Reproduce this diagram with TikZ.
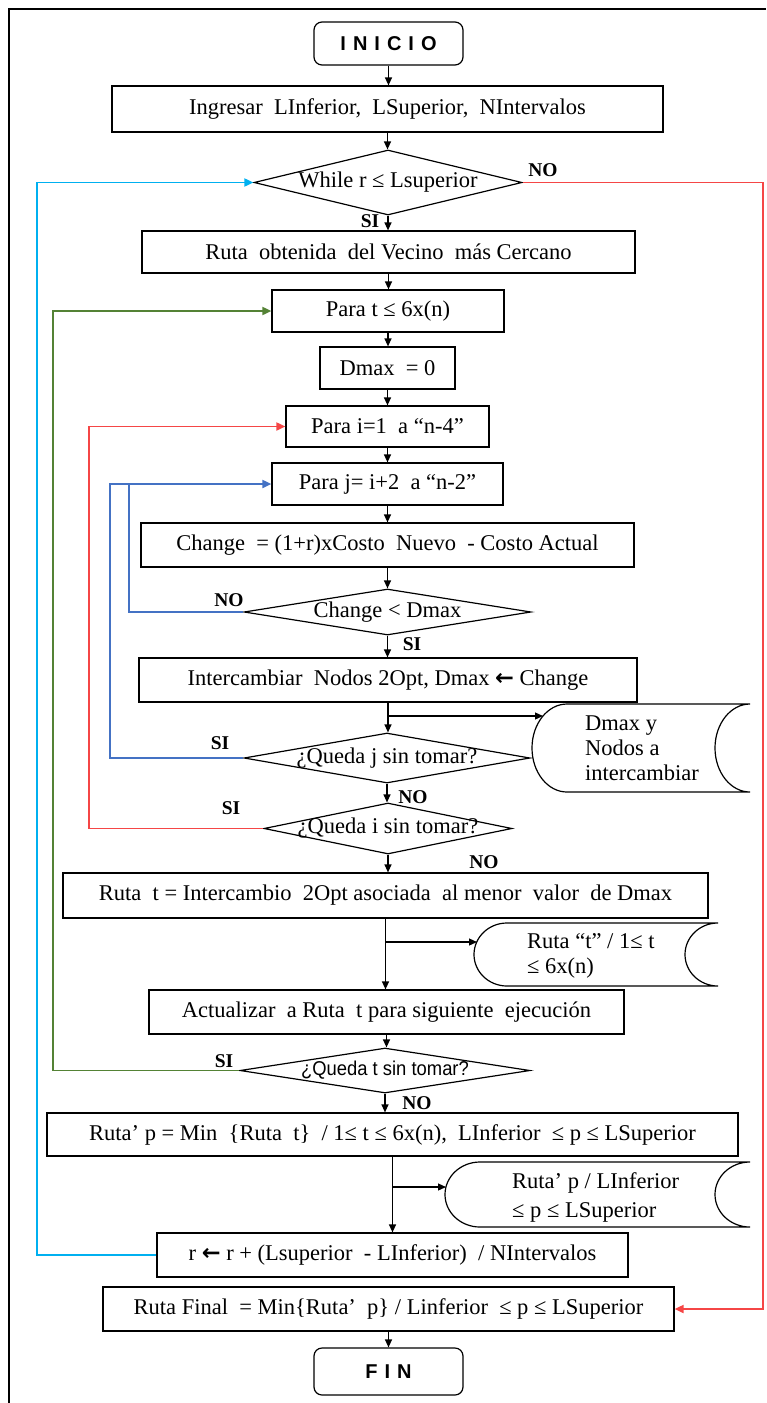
\documentclass[tikz,border=0pt]{standalone}
\usepackage{fontspec}
\usepackage{graphicx}
\setmainfont{Liberation Serif}
\newfontfamily\arialfont{Liberation Sans}
\newfontfamily\symfont{DejaVu Sans}
\usetikzlibrary{shapes.geometric,arrows.meta,calc}
\definecolor{lcyan}{RGB}{0,176,240}
\definecolor{lred}{RGB}{245,70,70}
\definecolor{lgreen}{RGB}{84,130,53}
\definecolor{lblue}{RGB}{68,114,196}
\newcommand\lsp{\kern7pt}
\newcommand\myarrow{{\symfont\bfseries ←}}
\newcommand\storage[5]{\draw[line width=1.2pt] ({#1+#5},#2) -- (#3,#2) arc[start angle=90,end angle=270,x radius=#5pt,y radius={((#4)-(#2))/2*1pt}] -- ({#1+#5},#4) arc[start angle=270,end angle=90,x radius=#5pt,y radius={((#4)-(#2))/2*1pt}] -- cycle;}
\begin{document}
\begin{tikzpicture}[x=1pt,y=-1pt,
  txt/.style={font=\fontsize{22.5}{25}\selectfont},
  box/.style={draw, line width=1.2pt, inner sep=0pt, txt},
  term/.style={draw, line width=1.2pt, inner sep=0pt, rounded corners=8pt, font=\arialfont\bfseries\fontsize{20}{22}\selectfont},
  dia/.style={draw, diamond, line width=1.2pt, inner sep=0pt},
  lbl/.style={font=\fontsize{19.5}{21}\selectfont\bfseries},
  arr/.style={line width=1.2pt, -{Triangle[length=8pt,width=7pt]}},
  loopline/.style={line width=1.8pt, color=#1, -{Triangle[length=9pt,width=8pt]}},
  plainloop/.style={line width=1.8pt, color=#1},
  ]
\useasboundingbox (0,0) rectangle (766,1403);
% frame
\draw[line width=1.5pt] (9,1403) -- (9,9) -- (766,9);

% main column
\node[term, minimum width=149, minimum height=43] (ini) at (388.5,43.5) {I\lsp N\lsp I\lsp C\lsp I\lsp O};
\node[box, minimum width=551, minimum height=46] (ing) at (387.5,109) {Ingresar\ \ LInferior,\ \ LSuperior,\ \ NIntervalos};
\node[dia, minimum width=268, minimum height=65] (wh) at (388,182.5) {};
\node[txt] (wht) at (wh.center) {While r ≤ Lsuperior};
\node[box, minimum width=493, minimum height=42] (rvc) at (388.5,252) {Ruta\ \ obtenida\ \ del Vecino\ \ más Cercano};
\node[box, minimum width=232, minimum height=42] (pt) at (388,311) {Para t ≤ 6x(n)};
\node[box, minimum width=135, minimum height=42] (dm) at (387.5,368) {Dmax\ \ = 0};
\node[box, minimum width=203, minimum height=41] (pi) at (387.5,426.5) {Para i=1\ \ a “n-4”};
\node[box, minimum width=231, minimum height=42] (pj) at (387.5,484) {Para j= i+2\ \ a “n-2”};
\node[box, minimum width=493, minimum height=44] (ch) at (387.5,545) {Change\ \ = (1+r)xCosto\ \ Nuevo\ \ - Costo Actual};
\node[dia, minimum width=287, minimum height=46] (dcd) at (387.5,612) {};
\node[txt] (dcdt) at (dcd.center) {Change < Dmax};
\node[box, minimum width=498, minimum height=44] (ic) at (388,680) {Intercambiar\ \ Nodos 2Opt, Dmax \myarrow\ Change};
\node[dia, minimum width=286, minimum height=50] (dqj) at (387,758) {};
\node[txt] (dqjt) at (dqj.center) {¿Queda j sin tomar?};
\node[dia, minimum width=248, minimum height=51] (dqi) at (388,828.5) {};
\node[txt] (dqit) at (dqi.center) {¿Queda i sin tomar?};
\node[box, minimum width=645, minimum height=45] (rt) at (385.5,895.5) {Ruta\ \ t = Intercambio\ \ 2Opt asociada\ \ al menor\ \ valor\ \ de Dmax};
\node[box, minimum width=475, minimum height=44] (ac) at (386.5,1012) {Actualizar\ \ a Ruta\ \ t para siguiente\ \ ejecución};
\node[dia, minimum width=290, minimum height=45] (dqt) at (385,1070.5) {};
\node[font=\arialfont\fontsize{20}{22}\selectfont] (dqtt) at (dqt.center) {\scalebox{0.92}[1]{¿Queda t sin tomar?}};
\node[box, minimum width=691, minimum height=43] (rp) at (392.5,1134.5) {Ruta’ p = Min\ \ \{Ruta\ \ t\}\ \ / 1≤ t ≤ 6x(n),\ \ LInferior\ \ ≤ p ≤ LSuperior};
\node[box, minimum width=471, minimum height=44] (rr) at (392.5,1255) {r \myarrow\ r + (Lsuperior\ \ - LInferior)\ \ / NIntervalos};
\node[box, minimum width=571, minimum height=44] (rf) at (388.5,1309) {Ruta Final\ \ = Min\{Ruta’\ \ p\} / Linferior\ \ ≤ p ≤ LSuperior};
\node[term, minimum width=149, minimum height=47] (fin) at (388.5,1371.5) {F\lsp I\lsp N};

% storages
\storage{532}{704}{750}{792}{35}
\node[txt, align=left, anchor=west, inner sep=0pt] (s1) at (585,748) {Dmax y\\Nodos a\\intercambiar};
\storage{474}{923}{718}{986}{33}
\node[txt, align=left, anchor=west, inner sep=0pt] (s2) at (527,955.5) {Ruta “t” / 1≤ t\\≤ 6x(n)};
\storage{445}{1162}{750}{1227}{35}
\node[font=\fontsize{22.5}{29}\selectfont, align=left, anchor=west, inner sep=0pt] (s3) at (512,1197.5) {Ruta’ p / LInferior\\≤ p ≤ LSuperior};
\coordinate (s1tip) at (543,716);
\coordinate (s2tip) at (477,942);
\coordinate (s3tip) at (446,1187);

% spine arrows
\draw[arr] (ini.south) -- (ini.south |- ing.north);
\draw[arr] (ing.south) -- (ing.south |- wh.north);
\draw[arr] (wh.south) -- (wh.south |- rvc.north);
\draw[arr] (rvc.south) -- (rvc.south |- pt.north);
\draw[arr] (pt.south) -- (pt.south |- dm.north);
\draw[arr] (dm.south) -- (dm.south |- pi.north);
\draw[arr] (pi.south) -- (pi.south |- pj.north);
\draw[arr] (pj.south) -- (pj.south |- ch.north);
\draw[arr] (ch.south) -- (ch.south |- dcd.north);
\draw[arr] (dcd.south) -- (dcd.south |- ic.north);
\draw[arr] (ic.south) -- (ic.south |- dqj.north);
\draw[arr] (dqj.south) -- (dqj.south |- dqi.north);
\draw[arr] (dqi.south) -- (dqi.south |- rt.north);
\draw[arr] (rt.south) -- (rt.south |- ac.north);
\draw[arr] (ac.south) -- (ac.south |- dqt.north);
\draw[arr] (dqt.south) -- (dqt.south |- rp.north);
\draw[arr] (rp.south) -- (rp.south |- rr.north);
\draw[arr] (rf.south) -- (rf.south |- fin.north);

% branches to storages
\draw[arr] (ic.south |- s1tip) -- (s1tip);
\draw[arr] (rt.south |- s2tip) -- (s2tip);
\draw[arr] (rp.south |- s3tip) -- (s3tip);

% loop coordinates
\coordinate (cx) at (37,0);
\coordinate (gx) at (53,0);
\coordinate (rx) at (89,0);
\coordinate (bx1) at (110,0);
\coordinate (bx2) at (129,0);
\coordinate (redx) at (763,0);

\draw[loopline=lcyan] (rr.west) -- (rr.west -| cx) -- (wh.west -| cx) -- (wh.west);
\draw[loopline=lred] (wh.east) -- (wh.east -| redx) -- (rf.east -| redx) -- (rf.east);
\draw[loopline=lgreen] (dqt.west) -- (dqt.west -| gx) -- (pt.west -| gx) -- (pt.west);
\draw[loopline=lred] (dqi.west) -- (dqi.west -| rx) -- (pi.west -| rx) -- (pi.west);
\draw[loopline=lblue] (dqj.west) -- (dqj.west -| bx1) -- (pj.west -| bx1) -- (pj.west);
\draw[plainloop=lblue] (dcd.west) -- (dcd.west -| bx2) -- (pj.west -| bx2);

% labels
\node[lbl] (l1) at (543,170) {NO};
\node[lbl] (l2) at (370,221) {SI};
\node[lbl] (l3) at (229,600) {NO};
\node[lbl] (l4) at (412,644) {SI};
\node[lbl] (l5) at (220,743) {SI};
\node[lbl] (l6) at (413,797) {NO};
\node[lbl] (l7) at (231,808) {SI};
\node[lbl] (l8) at (484,862) {NO};
\node[lbl] (l9) at (224,1061) {SI};
\node[lbl] (l10) at (417,1103) {NO};
\end{tikzpicture}
\end{document}
